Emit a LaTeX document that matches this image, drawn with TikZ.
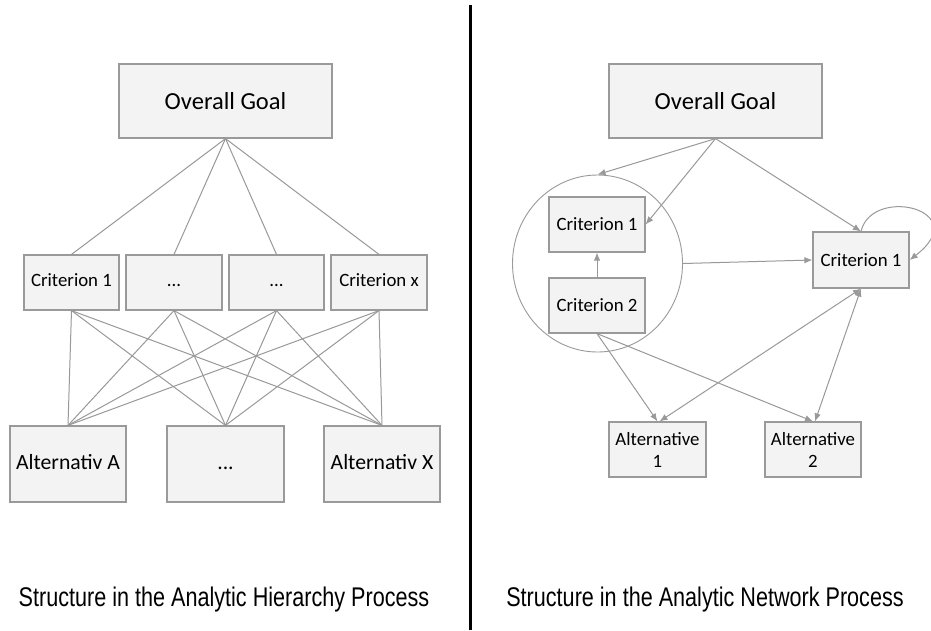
\documentclass[tikz,border=0pt]{standalone}
\usepackage{fontspec}
\setmainfont{Carlito}
\newfontfamily\capfont{Liberation Sans}
\usetikzlibrary{arrows.meta,shapes.geometric}
\definecolor{boxfill}{HTML}{F3F3F3}
\definecolor{boxline}{HTML}{9A9A9A}
\definecolor{linkgray}{HTML}{999999}
\tikzset{
  x=1pt, y=-1pt,
  box/.style={draw=boxline, fill=boxfill, line width=1.2pt, inner sep=0pt,
              align=center, font=\fontsize{18.8}{22}\selectfont},
  goalbox/.style={box, minimum width=213pt, minimum height=74pt,
              font=\fontsize{24.5}{28}\selectfont},
  critbox/.style={box, minimum width=96pt, minimum height=55pt},
  altbox/.style={box, minimum width=116pt, minimum height=76pt,
              font=\fontsize{21.7}{25}\selectfont},
  link/.style={draw=linkgray, line width=1pt},
  arr/.style={link, -{Latex[length=8pt,width=6.5pt]}},
  biarr/.style={link, {Latex[length=8pt,width=6.5pt]}-{Latex[length=8pt,width=6.5pt]}},
  caption/.style={font=\capfont\fontsize{27}{30}\selectfont, inner sep=0pt}
}
\begin{document}
\begin{tikzpicture}
\useasboundingbox (0,0) rectangle (931,630);
\fill[white] (0,0) rectangle (931,630);

% divider between the two panels
\draw[black, line width=2.6pt] (470.5,5) coordinate (divtop) -- (470.5,630) coordinate (divbot);

% ---------- hierarchy (left panel) ----------
\node[goalbox] (goalL) at (225.5,101) {Overall Goal};
\node[critbox, minimum width=95pt] (c1L) at (71.5,282.5) {\strut Criterion 1};
\node[critbox] (c2L) at (174,282.5) {\strut...};
\node[critbox, minimum width=95pt] (c3L) at (276.5,282.5) {\strut...};
\node[critbox] (c4L) at (379,282.5) {\strut Criterion x};
\node[altbox] (aAL) at (68,464) {\strut Alternativ A};
\node[altbox, minimum width=117pt] (aML) at (225.5,464) {\strut...};
\node[altbox] (aXL) at (382,464) {\strut Alternativ X};

\foreach \c in {c1L,c2L,c3L,c4L}{
  \draw[link] (goalL.south) -- (\c.north);
  \foreach \a in {aAL,aML,aXL}{
    \draw[link] (\c.south) -- (\a.north);
  }
}

\node[caption] (capL) at (224,600) {\scalebox{0.80}[1]{Structure in the Analytic Hierarchy Process}};

% ---------- network (right panel) ----------
\node[goalbox] (goalR) at (715.5,101) {Overall Goal};
\node[draw=boxline, line width=0.9pt, ellipse, minimum width=170pt, minimum height=177pt, inner sep=0pt] (grp) at (597.5,263.5) {};
\node[critbox] (cin1) at (597,224.5) {Criterion 1};
\node[critbox] (cin2) at (597,305.5) {Criterion 2};
\node[critbox, minimum height=56pt] (cR) at (861,260) {Criterion 1};
\node[critbox, minimum width=97pt] (alt1) at (657.5,449.5) {Alternative\\1};
\node[critbox] (alt2) at (813,449.5) {Alternative\\2};

\draw[arr] (goalR.south) -- (grp.north);
\draw[arr] (goalR.south) -- (cin1.east);
\draw[arr] (goalR.south) -- (cR.north);
\draw[arr] (grp.east) -- (cR.west);
\draw[arr] (cin2.north) -- (cin1.south);
\draw[arr] (cR.north) .. controls (872,185) and (975,210) .. (cR.east);
\draw[arr] (cin2.south) -- (alt1.north);
\draw[arr] (cin2.south) -- (alt2.north);
\draw[biarr] (cR.south) -- ([xshift=2pt]alt1.north);
\draw[biarr] (cR.south) -- ([xshift=2pt]alt2.north);

\node[caption] (capR) at (705,600) {\scalebox{0.80}[1]{Structure in the Analytic Network Process}};
\end{tikzpicture}
\end{document}
